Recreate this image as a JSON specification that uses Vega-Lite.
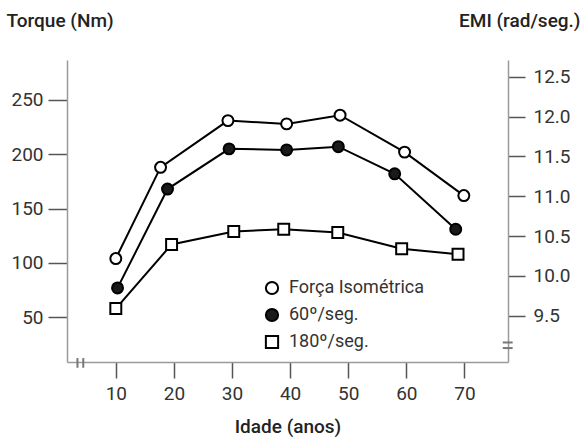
{
  "$schema": "https://vega.github.io/schema/vega-lite/v6.json",
  "width": 441,
  "height": 302,
  "autosize": "none",
  "padding": {"left": 67, "top": 60, "right": 73, "bottom": 77},
  "background": "white",
  "config": {
    "font": "Roboto",
    "view": {"stroke": null},
    "axis": {
      "grid": false,
      "domainColor": "#9a9a9a",
      "domainWidth": 1.5,
      "tickColor": "#555555",
      "tickWidth": 1.5,
      "labelFont": "Roboto",
      "labelFontSize": 19,
      "labelColor": "#333333",
      "titleFont": "Roboto",
      "titleFontSize": 19,
      "titleFontWeight": 500,
      "titleColor": "#222222"
    },
    "legend": {
      "orient": "none",
      "legendX": 196,
      "legendY": 219,
      "labelFont": "Roboto",
      "labelFontSize": 18,
      "labelColor": "#333333",
      "symbolSize": 150,
      "symbolStrokeWidth": 2,
      "rowPadding": 5,
      "labelOffset": 8,
      "title": null
    }
  },
  "layer": [
    {
      "layer": [
        {
          "data": {"name": "series", "values": [
            {"idade": 10, "torque": 104, "serie": "Força Isométrica"},
            {"idade": 17.7, "torque": 188, "serie": "Força Isométrica"},
            {"idade": 29.3, "torque": 231, "serie": "Força Isométrica"},
            {"idade": 39.4, "torque": 228, "serie": "Força Isométrica"},
            {"idade": 48.6, "torque": 236, "serie": "Força Isométrica"},
            {"idade": 59.7, "torque": 202, "serie": "Força Isométrica"},
            {"idade": 69.9, "torque": 162, "serie": "Força Isométrica"},
            {"idade": 10.3, "torque": 77, "serie": "60º/seg."},
            {"idade": 18.9, "torque": 168, "serie": "60º/seg."},
            {"idade": 29.5, "torque": 205, "serie": "60º/seg."},
            {"idade": 39.4, "torque": 204, "serie": "60º/seg."},
            {"idade": 48.3, "torque": 207, "serie": "60º/seg."},
            {"idade": 58, "torque": 182, "serie": "60º/seg."},
            {"idade": 68.5, "torque": 131, "serie": "60º/seg."},
            {"idade": 10, "torque": 58, "serie": "180º/seg."},
            {"idade": 19.6, "torque": 117, "serie": "180º/seg."},
            {"idade": 30.3, "torque": 129, "serie": "180º/seg."},
            {"idade": 38.9, "torque": 131, "serie": "180º/seg."},
            {"idade": 48.2, "torque": 128, "serie": "180º/seg."},
            {"idade": 59.2, "torque": 113, "serie": "180º/seg."},
            {"idade": 68.9, "torque": 108, "serie": "180º/seg."}
          ]},
          "mark": {"type": "line", "color": "black", "strokeWidth": 2},
          "encoding": {
            "x": {"field": "idade", "type": "quantitative", "scale": {"domain": [1.6, 77.5], "nice": false, "zero": false},
              "axis": {"values": [10, 20, 30, 40, 50, 60, 70], "title": "Idade (anos)", "tickSize": 16, "labelPadding": 6, "titlePadding": 14}},
            "y": {"field": "torque", "type": "quantitative", "scale": {"domain": [8.8, 286.8], "nice": false, "zero": false},
              "axis": {"values": [50, 100, 150, 200, 250], "title": "Torque (Nm)", "titleAngle": 0, "titleAlign": "left", "titleBaseline": "middle", "titleX": -61, "titleY": -40, "tickSize": 19, "labelPadding": 5}},
            "detail": {"field": "serie"}
          }
        },
        {
          "data": {"name": "series"},
          "mark": {"type": "point", "filled": true, "strokeWidth": 2, "opacity": 1, "size": 120},
          "encoding": {
            "x": {"field": "idade", "type": "quantitative"},
            "y": {"field": "torque", "type": "quantitative"},
            "shape": {"field": "serie", "type": "nominal", "sort": ["Força Isométrica", "60º/seg.", "180º/seg."],
              "scale": {"domain": ["Força Isométrica", "60º/seg.", "180º/seg."], "range": ["circle", "circle", "square"]}},
            "fill": {"field": "serie", "type": "nominal", "sort": ["Força Isométrica", "60º/seg.", "180º/seg."],
              "scale": {"domain": ["Força Isométrica", "60º/seg.", "180º/seg."], "range": ["white", "#1a1a1a", "white"]}},
            "stroke": {"field": "serie", "type": "nominal", "sort": ["Força Isométrica", "60º/seg.", "180º/seg."],
              "scale": {"domain": ["Força Isométrica", "60º/seg.", "180º/seg."], "range": ["black", "black", "black"]}}
          }
        },
        {
          "data": {"values": [
            {"idade": 3.4, "torque": 12.4, "torque2": 3.5},
            {"idade": 4.4, "torque": 12.4, "torque2": 3.5}
          ]},
          "mark": {"type": "rule", "color": "#777777", "strokeWidth": 2},
          "encoding": {
            "x": {"field": "idade", "type": "quantitative"},
            "y": {"field": "torque", "type": "quantitative"},
            "y2": {"field": "torque2"}
          }
        }
      ]
    },
    {
      "data": {"values": [
        {"idade": 76.6, "idade2": 78.3, "emi": 9.165},
        {"idade": 76.6, "idade2": 78.3, "emi": 9.095}
      ]},
      "mark": {"type": "rule", "color": "#777777", "strokeWidth": 2},
      "encoding": {
        "x": {"field": "idade", "type": "quantitative"},
        "x2": {"field": "idade2"},
        "y": {"field": "emi", "type": "quantitative", "scale": {"domain": [8.92, 12.71], "nice": false, "zero": false},
          "axis": {"orient": "right", "values": [9.5, 10, 10.5, 11, 11.5, 12, 12.5], "format": ".1f", "title": "EMI (rad/seg.)", "titleAngle": 0, "titleAlign": "right", "titleBaseline": "middle", "titleX": 72, "titleY": -40, "tickSize": 17, "labelPadding": 8}}
      }
    }
  ],
  "resolve": {"scale": {"y": "independent"}, "axis": {"y": "independent"}}
}
